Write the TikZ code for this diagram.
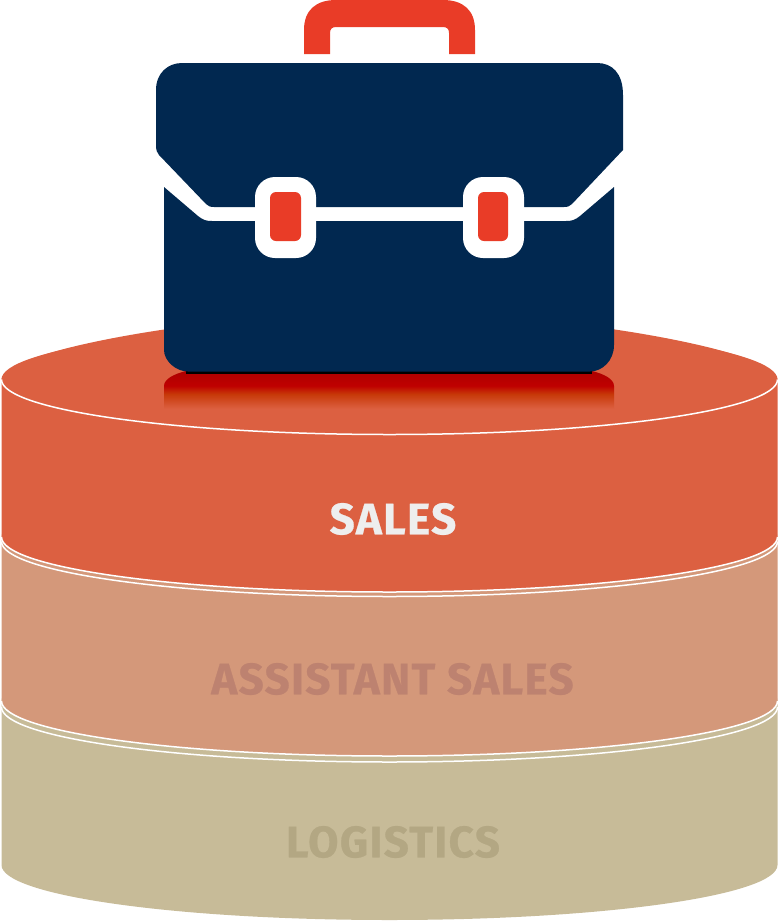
\documentclass[tikz,border=0pt]{standalone}
\usepackage{fontspec}
\setmainfont{Fira Sans}
\newfontfamily\tierfont[LetterSpace=3,FakeBold=0.6]{Fira Sans Bold}
\definecolor{salesc}{HTML}{DC6041}
\definecolor{assistc}{HTML}{D4987A}
\definecolor{logic}{HTML}{C7BB98}
\definecolor{assistt}{HTML}{BD8270}
\definecolor{logit}{HTML}{B3A783}
\definecolor{salest}{HTML}{EEEEEE}
\definecolor{navyc}{HTML}{012850}
\definecolor{redc}{HTML}{E93C27}
\pgfdeclareverticalshading{reflshade}{100bp}{
 rgb(0bp)=(.863,.376,.255);
 rgb(29bp)=(.863,.376,.255);
 rgb(47bp)=(.78,.22,.03);
 rgb(57bp)=(.75,0,0);
 rgb(75bp)=(.68,0,0);
 rgb(100bp)=(.68,0,0)}
% band: #1 top centre y, #2 bottom centre y, #3 colour
\newcommand\bandfill[3]{%
 \fill[#3] (1.5,#1) .. controls (1.5,#1-30.4) and (175.5,#1-55) .. (389.5,#1-55)
   .. controls (603.5,#1-55) and (777.5,#1-30.4) .. (777.5,#1)
   -- (777.5,#2) .. controls (777.5,#2+30.4) and (603.5,#2+55) .. (389.5,#2+55)
   .. controls (175.5,#2+55) and (1.5,#2+30.4) .. (1.5,#2) -- cycle;}
\newcommand\rimline[1]{%
 \draw[rimstyle] (1.5,#1) .. controls (1.5,#1+30.4) and (175.5,#1+55) .. (389.5,#1+55)
   .. controls (603.5,#1+55) and (777.5,#1+30.4) .. (777.5,#1);}
\tikzset{
 x=1pt,y=-1pt,
 rimstyle/.style={draw=white,line width=1.5pt},
 tierlabel/.style={font=\tierfont\fontsize{44}{44}\selectfont,inner sep=0pt,anchor=center},
 clasp/.style={fill=white,rounded corners=20pt},
 claspred/.style={fill=redc,rounded corners=6pt},
}
\begin{document}
\begin{tikzpicture}
\useasboundingbox (0,0) rectangle (780,922);
% cylinders
\bandfill{701}{865}{logic}
\bandfill{537}{701}{assistc}
\bandfill{379.5}{537}{salesc}
\fill[salesc] (1.5,379.5) .. controls (1.5,350) and (220,312) .. (389.5,312)
   .. controls (559,312) and (777.5,350) .. (777.5,379.5) -- cycle;
\rimline{379.5}
\rimline{537}
\rimline{541.5}
\rimline{701}
\rimline{707}
% labels
\node[tierlabel,text=salest] (sales) at (393,519) {SALES};
\node[tierlabel,text=assistt] (assist) at (392.5,679) {ASSISTANT SALES};
\node[tierlabel,text=logit] (logi) at (393,842) {LOGISTICS};
% reflection
\shade[shading=reflshade] (186,371) .. controls (174,374) and (164,379) .. (164,386)
  -- (164,412) -- (614,412) -- (614,386) .. controls (614,379) and (604,374) .. (592,371) -- cycle;
% handle
\fill[redc] (304,54) -- (304,30) .. controls (304,10) and (316,0) .. (336,0)
  -- (443,0) .. controls (463,0) and (475,10) .. (475,30) -- (475,54)
  -- (449,54) -- (449,33) .. controls (449,29) and (447,27) .. (443,27)
  -- (336,27) .. controls (332,27) and (330,29) .. (330,33) -- (330,54) -- cycle;
% case: lower part
\fill[black] (186,371) rectangle (592,373.5);
\fill[navyc] (164,187) -- (198,216) .. controls (203,220) and (206,221) .. (212,221)
  -- (566,221) .. controls (572,221) and (575,220) .. (580,216) -- (614,187)
  -- (614,345) .. controls (614,361) and (602,371.5) .. (590,371.5)
  -- (188,371.5) .. controls (176,371.5) and (164,361) .. (164,350) -- cycle;
% case: flap
\fill[navyc] (156,90) .. controls (156,73) and (168,63) .. (182,63)
  -- (597,63) .. controls (612,63) and (623,73) .. (623,95)
  -- (623,150) -- (572,204) .. controls (570,206) and (568,207) .. (564,207)
  -- (214,207) .. controls (210,207) and (208,206) .. (206,204)
  -- (159,155) .. controls (157,153) and (156,150) .. (156,145) -- cycle;
% clasps
\fill[clasp] (255,177) rectangle (316,258);
\fill[clasp] (463,177) rectangle (524,258);
\fill[claspred] (270,192) rectangle (301,241);
\fill[claspred] (478,192) rectangle (508,241);
\end{tikzpicture}
\end{document}
